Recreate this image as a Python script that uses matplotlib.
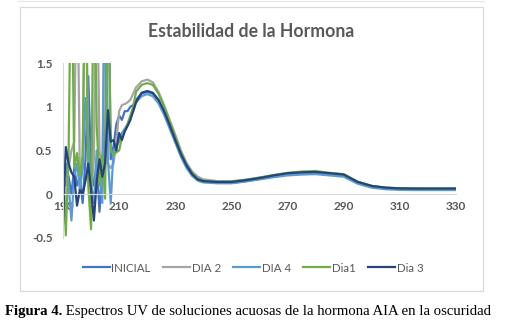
import matplotlib
matplotlib.use("Agg")
import matplotlib.pyplot as plt
from matplotlib.patches import Rectangle
from matplotlib.lines import Line2D

# ---------------- data ----------------
wavelength = [190, 191, 192, 193, 194, 195, 196, 197, 198, 199,
              200, 201, 202, 203, 204, 205, 206, 207, 208, 209,
              210, 211, 212, 213, 214, 215,
              216, 218, 220, 222, 224, 226, 228, 230, 232, 234, 236, 238, 240,
              245, 250, 255, 260, 265, 270, 275, 280, 285, 290, 295,
              300, 305, 310, 315, 320, 325, 330]

inicial = [0.10, 0.30, 0.20, 0.00, 0.30, 0.10, 0.20, -0.10, 0.40, 1.35,
           0.30, 0.10, 0.35, -0.20, 0.30, 0.50, 3.00, 0.40, 0.55, 0.80,
           0.90, 0.85, 0.95, 0.95, 1.00, 1.02,
           1.08, 1.15, 1.17, 1.15, 1.07, 0.94, 0.78, 0.61, 0.45, 0.32, 0.22, 0.165, 0.145,
           0.135, 0.13, 0.15, 0.175, 0.20, 0.225, 0.235, 0.24, 0.225, 0.21, 0.13,
           0.085, 0.065, 0.057, 0.055, 0.055, 0.055, 0.055]

dia2 = [0.20, 0.10, 0.30, 0.50, 0.60, 3.00, 0.20, 0.30, 3.00, 0.40,
        0.00, 0.40, 3.00, 0.50, 0.25, 3.00, 0.35, 0.30, 0.35, 0.60,
        0.95, 1.02, 1.03, 1.05, 1.08, 1.15,
        1.22, 1.29, 1.31, 1.28, 1.17, 1.02, 0.85, 0.68, 0.50, 0.36, 0.26, 0.20, 0.17,
        0.15, 0.15, 0.165, 0.19, 0.215, 0.235, 0.245, 0.25, 0.235, 0.22, 0.14,
        0.095, 0.075, 0.068, 0.066, 0.065, 0.065, 0.065]

dia4 = [0.30, 0.35, 0.10, -0.30, 0.20, 0.35, 0.05, 0.30, 1.10, 0.60,
        0.10, -0.10, 0.50, 0.30, -0.10, 3.00, 0.40, -0.10, 0.50, 0.55,
        0.60, 0.70, 0.75, 0.80, 0.88, 0.95,
        1.05, 1.12, 1.145, 1.12, 1.04, 0.91, 0.75, 0.59, 0.43, 0.30, 0.21, 0.155, 0.135,
        0.125, 0.125, 0.145, 0.17, 0.195, 0.215, 0.225, 0.23, 0.215, 0.20, 0.12,
        0.075, 0.057, 0.050, 0.048, 0.048, 0.048, 0.048]

dia1 = [0.45, -0.47, 0.50, 3.00, 0.30, 0.47, 0.20, 0.45, 3.00, 0.10,
        -0.40, 3.00, 0.80, 0.10, 0.45, -0.05, 3.00, 0.50, 0.45, 0.48,
        0.50, 0.65, 0.72, 0.80, 0.90, 1.00,
        1.17, 1.25, 1.27, 1.25, 1.15, 1.00, 0.83, 0.66, 0.48, 0.34, 0.24, 0.18, 0.155,
        0.14, 0.145, 0.165, 0.19, 0.22, 0.245, 0.26, 0.265, 0.245, 0.23, 0.145,
        0.095, 0.075, 0.068, 0.066, 0.065, 0.065, 0.065]

dia3 = [-0.35, 0.54, 0.35, 0.25, 0.20, -0.13, 0.05, 0.00, 0.15, 0.35,
        0.05, -0.30, 0.15, 0.40, 0.20, 0.35, 0.96, 0.60, 0.62, 0.50,
        0.70, 0.62, 0.72, 0.78, 0.85, 0.95,
        1.05, 1.16, 1.18, 1.16, 1.08, 0.95, 0.79, 0.62, 0.46, 0.33, 0.23, 0.17, 0.15,
        0.14, 0.14, 0.16, 0.185, 0.215, 0.24, 0.25, 0.255, 0.24, 0.225, 0.14,
        0.095, 0.075, 0.067, 0.065, 0.065, 0.065, 0.065]

series_names = ["INICIAL", "DIA 2", "DIA 4", "Dia1", "Dia 3"]
series_values = [inicial, dia2, dia4, dia1, dia3]
series_colors = ["#4472C4", "#A5A5A5", "#5B9BD5", "#70AD47", "#264478"]

x_ticks = [190, 210, 230, 250, 270, 290, 310, 330]
y_ticks = [-0.5, 0, 0.5, 1, 1.5]
y_tick_labels = ["-0.5", "0", "0.5", "1", "1.5"]

title = "Estabilidad de la Hormona"
caption_bold = "Figura 4."
caption_rest = " Espectros UV de soluciones acuosas de la hormona AIA en la oscuridad"

# ---------------- figure ----------------
W, H = 511, 331
fig = plt.figure(figsize=(W / 100, H / 100), dpi=100)
fig.patch.set_facecolor("white")

def fx(px):
    return px / W

def fy(py):
    return 1 - py / H

# chart frame
frame = Rectangle((fx(20), fy(291)), fx(483) - fx(20), fy(7) - fy(291),
                  transform=fig.transFigure, facecolor="none",
                  edgecolor="#D9D9D9", linewidth=0.9, zorder=-5)
fig.patches.append(frame)
fig.lines.append(Line2D([fx(18), fx(484)], [fy(1), fy(1)], transform=fig.transFigure,
                        color="#E4E4E4", linewidth=0.8, zorder=-5))

ax = fig.add_axes([fx(63), fy(238), fx(456) - fx(63), fy(63) - fy(238)])
ax.set_facecolor("none")
ax.set_zorder(2)

for name, vals, col in zip(series_names, series_values, series_colors):
    ax.plot(wavelength, vals, color=col, linewidth=1.6, label=name,
            solid_joinstyle="round", solid_capstyle="round")

ax.set_xlim(190, 330)
ax.set_ylim(-0.5, 1.5)
ax.set_xticks(x_ticks)
ax.set_yticks(y_ticks)
ax.set_yticklabels(y_tick_labels)

for s in ["top", "right"]:
    ax.spines[s].set_visible(False)
ax.spines["left"].set_color("#D9D9D9")
ax.spines["left"].set_linewidth(0.8)
ax.spines["bottom"].set_position(("data", 0))
ax.spines["bottom"].set_color("#D9D9D9")
ax.spines["bottom"].set_linewidth(0.8)
ax.tick_params(axis="both", length=0, labelcolor="#595959")
ax.tick_params(axis="x", pad=5)
ax.tick_params(axis="y", pad=7.5)
for lab in ax.get_xticklabels() + ax.get_yticklabels():
    lab.set_fontfamily("Lato")
    lab.set_fontweight("bold")
    lab.set_fontsize(8.5)

fig.text(fx(251), fy(31.5), title, ha="center", va="center", fontsize=12.7,
         fontweight="bold", color="#595959", family="Lato")

handles = [Line2D([0], [0], color=c, linewidth=1.6) for c in series_colors]
fig.legend(handles, series_names, loc="center", bbox_to_anchor=(fx(253), fy(268)),
           ncol=5, frameon=False, handlelength=2.35, handletextpad=0.15,
           columnspacing=1.05, prop={"family": "Lato", "size": 8.3},
           labelcolor="#595959")

# caption
t1 = fig.text(fx(5), fy(311), caption_bold, ha="left", va="center", fontsize=10.6,
              fontweight="bold", family="Liberation Serif", color="black")
fig.canvas.draw()
bb = t1.get_window_extent(renderer=fig.canvas.get_renderer())
fig.text(bb.x1 / W, fy(311), caption_rest, ha="left", va="center", fontsize=10.6,
         family="Liberation Serif", color="black")

fig.savefig("out.png", dpi=100)
